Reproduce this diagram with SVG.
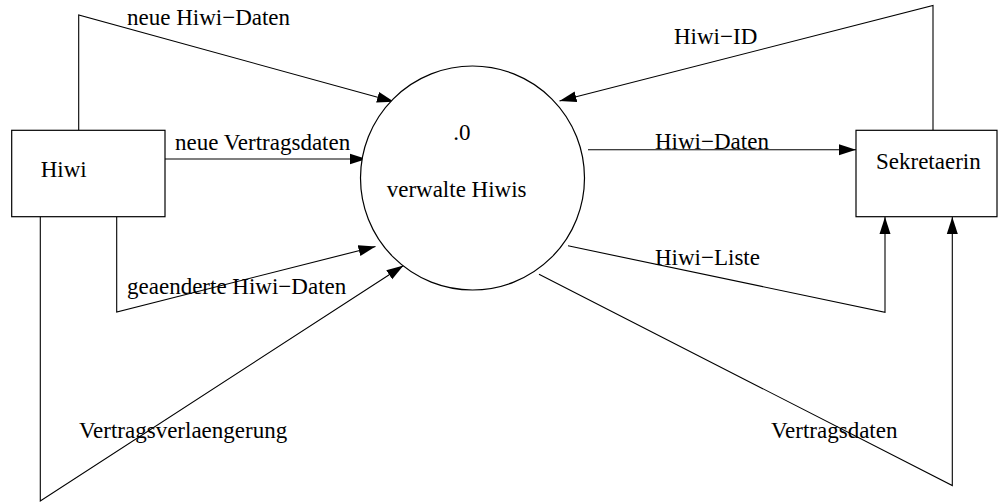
<svg xmlns="http://www.w3.org/2000/svg" width="998" height="502" viewBox="0 0 998 502">
<style>
.box{fill:#fff;stroke:#000;stroke-width:1.2}
.ln{fill:none;stroke:#000;stroke-width:1.1}
text{font-family:"Liberation Serif","Times New Roman",serif;font-size:23px;fill:#000}
</style>
<defs>
<marker id="ah" markerUnits="userSpaceOnUse" markerWidth="18" markerHeight="12" refX="17" refY="5.5" orient="auto" viewBox="0 0 18 11">
<path d="M0,0 L17,5.5 L0,11 Z" fill="#000"/>
</marker>
</defs>
<rect width="998" height="502" fill="#fff"/>
<g id="connectors">
<path class="ln" d="M78.7,130 V15 L394,101.7" marker-end="url(#ah)"/>
<path class="ln" d="M165,159 H366.5" marker-end="url(#ah)"/>
<path class="ln" d="M116.7,217 V312 L375.5,246.5" marker-end="url(#ah)"/>
<path class="ln" d="M40.3,217 V501 L403.5,265.5" marker-end="url(#ah)"/>
<path class="ln" d="M933,130 V5.5 L559.5,101" marker-end="url(#ah)"/>
<path class="ln" d="M588,149.7 H856" marker-end="url(#ah)"/>
<path class="ln" d="M568,245.8 L885,312.3 V217" marker-end="url(#ah)"/>
<path class="ln" d="M539,274.3 L952.3,485.5 V217" marker-end="url(#ah)"/>
<text x="127" y="25">neue Hiwi−Daten</text>
<text x="175" y="150">neue Vertragsdaten</text>
<text x="127" y="294">geaenderte Hiwi−Daten</text>
<text x="79" y="438">Vertragsverlaengerung</text>
<text x="674" y="44">Hiwi−ID</text>
<text x="655" y="149">Hiwi−Daten</text>
<text x="655" y="265">Hiwi−Liste</text>
<text x="771" y="438">Vertragsdaten</text>
</g>
<g id="hiwi">
<rect class="box" x="11.7" y="130.3" width="153.3" height="86.4"/>
<text x="40.7" y="177">Hiwi</text>
</g>
<g id="sekretaerin">
<rect class="box" x="856" y="130.3" width="141" height="86.4"/>
<text x="876" y="169">Sekretaerin</text>
</g>
<g id="process">
<circle class="box" cx="472.5" cy="178" r="112"/>
<text x="453.3" y="140">.0</text>
<text x="386.7" y="197.3">verwalte Hiwis</text>
</g>
</svg>
